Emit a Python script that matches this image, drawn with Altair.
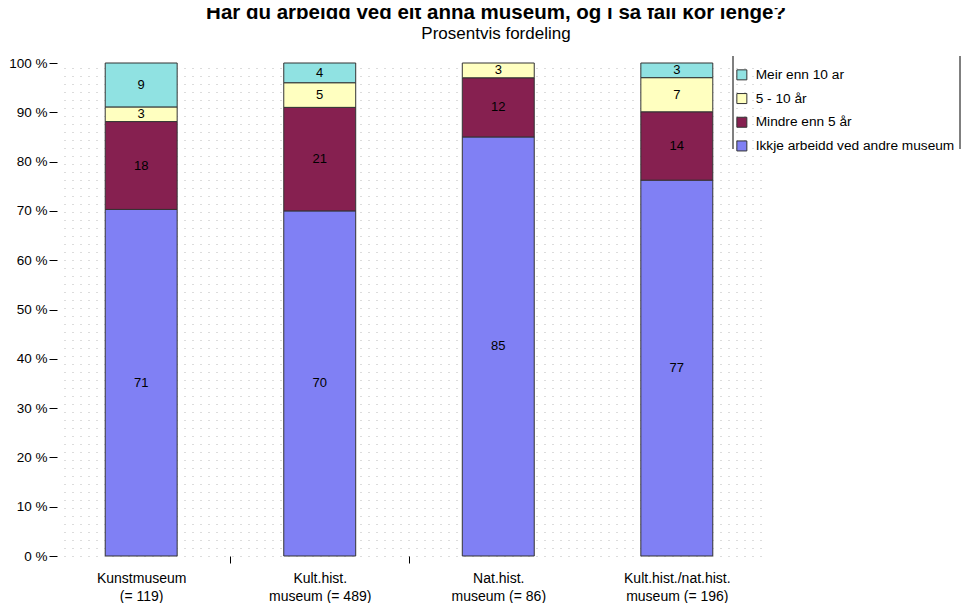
import altair as alt
import pandas as pd

categories = ["Kunstmuseum|(= 119)", "Kult.hist.|museum (= 489)",
              "Nat.hist.|museum (= 86)", "Kult.hist./nat.hist.|museum (= 196)"]
series_stack = ["Ikkje arbeidd ved andre museum", "Mindre enn 5 år", "5 - 10 år", "Meir enn 10 ar"]
ikkje = [71, 70, 85, 77]
mindre5 = [18, 21, 12, 14]
fem_ti = [3, 5, 3, 7]
meir10 = [9, 4, 0, 3]
legend_order = ["Meir enn 10 ar", "5 - 10 år", "Mindre enn 5 år", "Ikkje arbeidd ved andre museum"]
colors = ["#90E2E2", "#FFFFC0", "#862050", "#8080F4"]

rows = []
for si, (name, vals) in enumerate(zip(series_stack, [ikkje, mindre5, fem_ti, meir10])):
    for c, v in zip(categories, vals):
        if v > 0:
            rows.append({"cat": c, "series": name, "value": v, "order": si})
df = pd.DataFrame(rows)

FONT = "Liberation Sans"
W, H = 704, 493
P_IN, P_OUT = 0.597, 0.27
half_step = W / (len(categories) - P_IN + 2 * P_OUT) / 2

base = alt.Chart(df).transform_stack(
    stack="value", groupby=["cat"], sort=[alt.SortField("order", "ascending")],
    offset="normalize", as_=["y0", "y1"]
).transform_calculate(mid="(datum.y0 + datum.y1) / 2")

yscale = alt.Scale(domain=[0, 1])
yaxis = alt.Axis(values=[i / 10 for i in range(11)],
                 labelExpr="round(datum.value * 100) + ' %'",
                 domain=False, grid=False, tickSize=8, tickColor="black",
                 labelFont=FONT, labelFontSize=13.5, labelColor="black",
                 labelPadding=2)

mid_cats = "['" + categories[1] + "','" + categories[2] + "']"
xenc = alt.X("cat:N", sort=categories, title=None,
             scale=alt.Scale(paddingInner=P_IN, paddingOuter=P_OUT),
             axis=alt.Axis(labelExpr="split(datum.label, '|')", labelAngle=0, domain=False,
                           tickOffset=-half_step, labelOffset=half_step,
                           tickSize=7, tickColor="black",
                           tickOpacity=alt.condition("indexof(" + mid_cats + ", datum.value) >= 0",
                                                     alt.value(1), alt.value(0)),
                           labelFont=FONT, labelFontSize=14, labelColor="black",
                           labelPadding=8, labelLineHeight=18))

bars = base.mark_bar(stroke="#333333", strokeWidth=1).encode(
    x=xenc,
    y=alt.Y("y0:Q", scale=yscale, title=None, axis=yaxis),
    y2="y1:Q",
    color=alt.Color("series:N", scale=alt.Scale(domain=legend_order, range=colors),
                    legend=alt.Legend(title=None, orient="none", legendX=678, legendY=5,
                                      symbolType="square", symbolSize=100,
                                      symbolStrokeColor="#333333", symbolStrokeWidth=1,
                                      labelFont=FONT, labelFontSize=13.7, labelColor="black",
                                      labelLimit=0, rowPadding=8.7, labelOffset=7)),
)

texts = base.mark_text(font=FONT, fontSize=13, color="black").encode(
    x=xenc,
    y=alt.Y("mid:Q", scale=yscale, title=None, axis=yaxis),
    text="value:Q",
)

line_l = alt.Chart(pd.DataFrame({"a": [0]})).mark_rule(color="black", strokeWidth=1).encode(
    x=alt.value(676), y=alt.value(-7), y2=alt.value(86))
line_r = alt.Chart(pd.DataFrame({"a": [0]})).mark_rule(color="black", strokeWidth=1).encode(
    x=alt.value(903), y=alt.value(-7), y2=alt.value(86))

main = alt.layer(bars, texts, line_l, line_r)

# decorative dotted background (horizontal dotted grid every 8 px)
dots = alt.Chart(pd.DataFrame({"a": [0]})).mark_point(opacity=0).encode(
    y=alt.Y("a:Q", scale=alt.Scale(domain=[0, H / 8]), title=None,
            axis=alt.Axis(values=list(range(0, int(H / 8) + 1)), grid=True,
                          gridDash=[1, 7], gridColor="#b8b8b8", gridWidth=1,
                          labels=False, ticks=False, domain=False, orient="right")),
)

chart = alt.layer(dots, main).resolve_scale(y="independent").properties(
    width=W, height=H,
    title=alt.TitleParams("Har du arbeidd ved eit anna museum, og i så fall kor lenge?",
                          subtitle="Prosentvis fordeling",
                          font=FONT, fontSize=20.5, fontWeight="bold", color="black",
                          subtitleFont=FONT, subtitleFontSize=17, subtitleColor="black",
                          subtitlePadding=2, anchor="middle", dx=87, offset=14),
    padding={"top": -5, "left": 0, "right": 0, "bottom": 0},
).configure_view(stroke=None)

chart.save("out.html", embed_options={"renderer": "svg", "actions": False})
